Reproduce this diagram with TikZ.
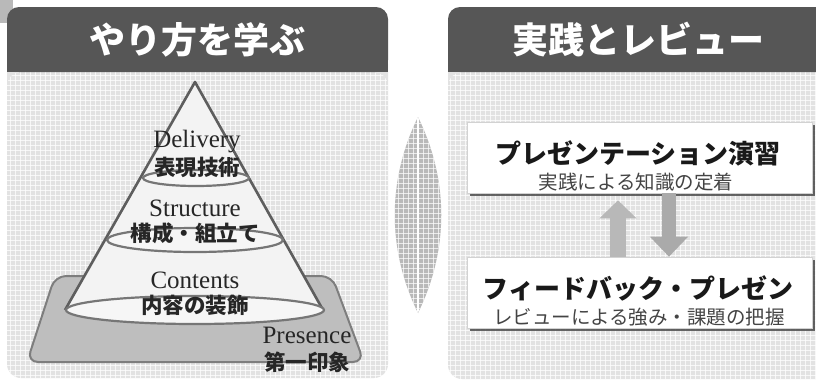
\documentclass[tikz,border=0pt]{standalone}
\usepackage{fontspec}
\setmainfont{Liberation Serif}
\newfontfamily\jp{Noto Sans CJK JP}
\usetikzlibrary{calc,arrows.meta,shadows}
\definecolor{hdr}{HTML}{565656}
\definecolor{bodybg}{HTML}{E2E2E2}
\definecolor{slabc}{HTML}{BEBEBE}
\definecolor{edgec}{HTML}{5E5E5E}
\definecolor{conef}{HTML}{F3F3F3}
\definecolor{ellf}{HTML}{F6F6F6}
\definecolor{arrup}{HTML}{B8B8B8}
\definecolor{arrdn}{HTML}{AAAAAA}
\definecolor{subc}{HTML}{444444}
\tikzset{
  gridline/.style={white, line width=0.7pt, opacity=0.75},
  en/.style={font=\fontsize{25}{25}\selectfont, text=black!85, inner sep=0pt},
  jn/.style={font=\jp\bfseries\fontsize{21.5}{21.5}\selectfont, text=black!85, inner sep=0pt},
  hd/.style={font=\jp\bfseries\fontsize{36}{36}\selectfont, text=white, inner sep=0pt},
  boxst/.style={fill=white, draw=gray!35, line width=0.6pt, minimum width=345pt, minimum height=71pt,
    drop shadow={shadow xshift=3pt, shadow yshift=-3pt, fill=black!80, opacity=0.75}},
  bt/.style={font=\jp\bfseries\fontsize{26}{26}\selectfont, text=black!90, inner sep=0pt},
  bs/.style={font=\jp\fontsize{19.5}{19.5}\selectfont, text=subc, inner sep=0pt},
  ellst/.style={fill=ellf, draw=edgec!85, line width=2.2pt},
}
\begin{document}
\begin{tikzpicture}[x=1pt,y=-1pt]
\useasboundingbox (0,0) rectangle (816,381);
\fill[white] (0,0) rectangle (816,381);
\fill[gray!55] (0,0) rectangle (13,23);

% ---------- left panel ----------
\fill[bodybg, rounded corners=14pt] (7,50) rectangle (388,378);
\begin{scope}
  \clip[rounded corners=14pt] (7,72) rectangle (388,378);
  \foreach \gx in {10,15,...,385} \draw[gridline] (\gx,72) -- (\gx,378);
  \foreach \gy in {75,80,...,375} \draw[gridline] (7,\gy) -- (388,\gy);
\end{scope}
\fill[hdr, rounded corners=12pt] (7,7) rectangle (388,72);
\fill[hdr] (7,50) rectangle (388,72);
\node[hd] (h1) at (197,40) {やり方を学ぶ};

% ---------- right panel ----------
\fill[bodybg, rounded corners=14pt] (448,50) rectangle (840,379);
\begin{scope}
  \clip[rounded corners=14pt] (448,72) rectangle (840,379);
  \foreach \gx in {450,455,...,816} \draw[gridline] (\gx,72) -- (\gx,379);
  \foreach \gy in {75,80,...,375} \draw[gridline] (448,\gy) -- (840,\gy);
\end{scope}
\fill[hdr, rounded corners=12pt] (448,7) rectangle (840,72);
\fill[hdr] (448,50) rectangle (840,72);
\node[hd] (h2) at (638,40) {実践とレビュー};

% ---------- spindle ----------
\begin{scope}
  \path[clip] (418,117) .. controls (387,180) and (387,250) .. (418,313)
                        .. controls (449,250) and (449,180) .. (418,117);
  \fill[gray!55] (380,110) rectangle (460,320);
  \foreach \gx in {398,403,...,440} \draw[white, line width=0.8pt, opacity=0.7] (\gx,110) -- (\gx,320);
  \foreach \gy in {118,123,...,315} \draw[white, line width=0.8pt, opacity=0.7] (380,\gy) -- (460,\gy);
  \draw[white, line width=2pt] (418,110) -- (418,320);
\end{scope}

% ---------- pyramid ----------
\draw[fill=slabc, draw=edgec!80, line width=2pt, rounded corners=11pt]
  (55,276) -- (332,276) -- (364,362) -- (27,362) -- cycle;
\path[fill=conef] (195,82) -- (65,310) arc[start angle=180, end angle=360, x radius=129pt, y radius=14pt] -- cycle;
\draw[edgec, line width=2.6pt, line join=round] (65,310) -- (195,82) -- (323,310);
\draw[ellst] (195,310) ellipse [x radius=129pt, y radius=14pt];
\draw[ellst] (195,240) ellipse [x radius=88pt, y radius=12pt];
\draw[ellst] (196,178) ellipse [x radius=53pt, y radius=8pt];

\node[en] (del) at (197,142) {Delivery};
\node[jn] (delj) at (197,167) {表現技術};
\node[en] (str) at (195,208) {Structure};
\node[jn] (strj) at (195,233) {構成・組立て};
\node[en] (con) at (195,280) {Contents};
\node[jn] (conj) at (195,305) {内容の装飾};
\node[en] (pre) at (307,335) {Presence};
\node[jn] (prej) at (307,362) {第一印象};

% ---------- right boxes ----------
\node[boxst] (b1) at (639.5,157.5) {};
\node[bt] (b1t) at (638,153) {プレゼンテーション演習};
\node[bs] (b1s) at (636,182) {実践による知識の定着};
\node[boxst] (b2) at (639.5,292.5) {};
\node[bt] (b2t) at (638,288) {フィードバック・プレゼン};
\node[bs] (b2s) at (639,317) {レビューによる強み・課題の把握};

\coordinate (ux) at (618,0);
\coordinate (dx) at (669,0);
\draw[arrup, line width=16pt, -{Triangle[width=36pt,length=18pt]}]
  (b2.north -| ux) -- ($(b1.south -| ux)+(0,7)$);
\draw[arrdn, line width=14pt, -{Triangle[width=37pt,length=20pt]}]
  (b1.south -| dx) -- (b2.north -| dx);
\end{tikzpicture}
\end{document}
